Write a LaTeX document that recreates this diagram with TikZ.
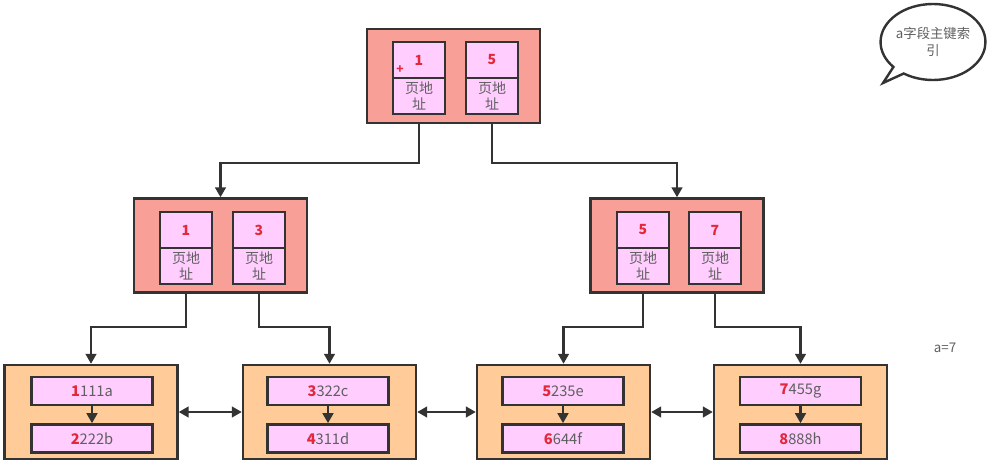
\documentclass[tikz,border=0pt]{standalone}
\usepackage{fontspec}
\setmainfont{Noto Sans CJK SC}
\usetikzlibrary{arrows.meta,positioning,shapes.callouts}
\definecolor{idxfill}{RGB}{248,160,152}
\definecolor{leaffill}{RGB}{255,204,153}
\definecolor{cellfill}{RGB}{255,206,255}
\definecolor{keyred}{RGB}{228,40,60}
\definecolor{txtgray}{RGB}{95,95,95}
\definecolor{edge}{RGB}{51,51,51}
\newcommand{\kd}[1]{\textcolor{keyred}{\bfseries #1}}
\begin{document}
\begin{tikzpicture}[x=0.75pt, y=-0.75pt, line width=1.8pt,
    idx/.style = {draw=edge, fill=idxfill, minimum width=129.75pt, minimum height=70.5pt, inner sep=0pt},
    leaf/.style = {draw=edge, fill=leaffill, minimum width=129.75pt, minimum height=70.5pt, inner sep=0pt},
    key/.style = {draw=edge, fill=cellfill, minimum width=39pt, minimum height=27pt, inner sep=0pt, outer sep=0pt, anchor=north west, text=keyred, font=\fontsize{10.5}{12}\selectfont\bfseries},
    addr/.style = {draw=edge, fill=cellfill, minimum width=39pt, minimum height=27pt, inner sep=0pt, outer sep=0pt, align=center, text=txtgray, font=\fontsize{10.5}{12.5}\selectfont},
    rec/.style = {draw=edge, fill=cellfill, minimum width=91pt, minimum height=21pt, inner sep=0pt, text=txtgray, font=\fontsize{11}{12}\selectfont},
    link/.style = {draw=edge, -{Triangle[width=8pt,length=7.5pt]}},
    both/.style = {draw=edge, {Triangle[width=8pt,length=7.5pt]}-{Triangle[width=8pt,length=7.5pt]}}]
  \useasboundingbox (0,0) rectangle (992,467);

  % root page
  \node[idx] (root) at (453.5,76) {};
  \node[key] (r1k) at (393,42) {1};
  \node[addr] (r1a) [below=0pt of r1k] {页地\\址};
  \node[key] (r2k) at (466,42) {5};
  \node[addr] (r2a) [below=0pt of r2k] {页地\\址};
  \node[text=keyred, font=\fontsize{9}{9}\selectfont\bfseries] (plus) at (400,70) {+};

  % second level
  \node[idx] (ml) at (220.5,245.5) {};
  \node[key] (m1k) at (160,212) {1};
  \node[addr] (m1a) [below=0pt of m1k] {页地\\址};
  \node[key] (m2k) at (233,212) {3};
  \node[addr] (m2a) [below=0pt of m2k] {页地\\址};

  \node[idx] (mr) at (677,245.5) {};
  \node[key] (m3k) at (617,212) {5};
  \node[addr] (m3a) [below=0pt of m3k] {页地\\址};
  \node[key] (m4k) at (689,212) {7};
  \node[addr] (m4a) [below=0pt of m4k] {页地\\址};

  % leaf pages
  \node[leaf] (l1) at (91,412) {};
  \node[rec] (d1) at (92,391) {\kd{1}111a};
  \node[rec] (d2) [below=12.75pt of d1] {\kd{2}222b};
  \node[leaf] (l2) at (329.5,412) {};
  \node[rec] (d3) at (328,391) {\kd{3}322c};
  \node[rec] (d4) [below=12.75pt of d3] {\kd{4}311d};
  \node[leaf] (l3) at (563.5,412) {};
  \node[rec] (d5) at (563,391) {\kd{5}235e};
  \node[rec] (d6) [below=12.75pt of d5] {\kd{6}644f};
  \node[leaf] (l4) at (800.5,412) {};
  \node[rec] (d7) at (800.5,391) {\kd{7}455g};
  \node[rec] (d8) [below=12.75pt of d7] {\kd{8}888h};

  \draw[link] (r1a.south |- root.south) -- ++(0,39) -| (ml.north);
  \draw[link] (r2a.south |- root.south) -- ++(0,39) -| (mr.north);
  \draw[link] (m1a.south |- ml.south) -- ++(0,33) -| (l1.north);
  \draw[link] (m2a.south |- ml.south) -- ++(0,33) -| (l2.north);
  \draw[link] (m3a.south |- mr.south) -- ++(0,33) -| (l3.north);
  \draw[link] (m4a.south |- mr.south) -- ++(0,33) -| (l4.north);
  \draw[link] (d1) -- (d2);
  \draw[link] (d3) -- (d4);
  \draw[link] (d5) -- (d6);
  \draw[link] (d7) -- (d8);
  \draw[both] (l1) -- (l2);
  \draw[both] (l2) -- (l3);
  \draw[both] (l3) -- (l4);

  \node[ellipse callout, draw=edge, fill=white, minimum width=75pt, minimum height=57pt, align=center, inner sep=0pt, text=txtgray, font=\fontsize{10}{13}\selectfont, callout absolute pointer={(883,83)}] (note) at (933,42) {a字段主键索\\引};
  \node[text=txtgray, font=\fontsize{10}{12}\selectfont] (cond) at (945,348) {a=7};
\end{tikzpicture}
\end{document}
